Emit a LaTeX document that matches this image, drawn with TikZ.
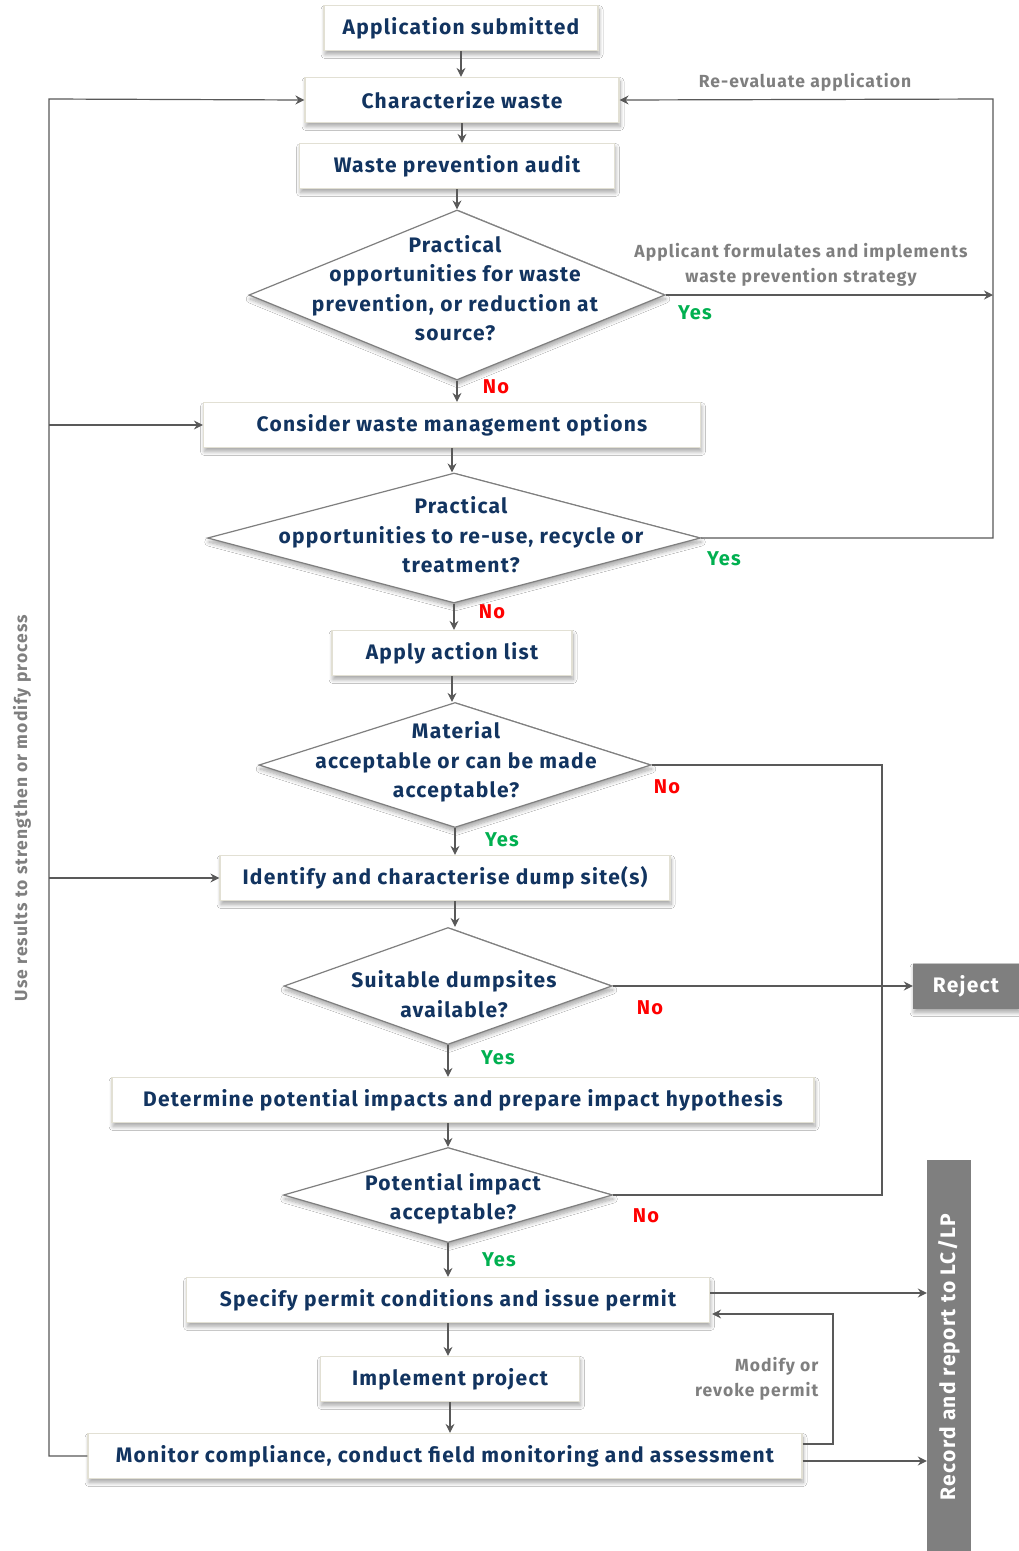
\documentclass[tikz,border=0pt]{standalone}
\usepackage{fontspec}
\setmainfont{Fira Sans}[LetterSpace=6]
\usetikzlibrary{shapes.geometric,shadows.blur,arrows.meta}
\definecolor{navy}{RGB}{18,52,96}
\definecolor{linegray}{RGB}{89,89,89}
\definecolor{labgray}{RGB}{127,127,127}
\definecolor{boxedge}{RGB}{226,224,212}
\definecolor{yesgreen}{RGB}{0,176,80}
\definecolor{nored}{RGB}{255,0,0}
\begin{document}
\begin{tikzpicture}[x=1pt,y=-1pt,
  shade/.style={blur shadow={shadow xshift=1pt,shadow yshift=-4pt,shadow blur radius=4pt,shadow blur steps=8,shadow opacity=35}},
  stepbox/.style={rectangle,draw=boxedge,line width=1.2pt,fill=white,shade,minimum height=45pt,
    text=navy,font=\fontsize{21}{28}\selectfont\bfseries,inner sep=0pt},
  decision/.style={diamond,draw=labgray,line width=1.2pt,fill=white,shade,inner sep=0pt},
  dtext/.style={text=navy,font=\fontsize{21}{29.5}\selectfont\bfseries,align=center,inner sep=0pt},
  graybox/.style={rectangle,fill=labgray,text=white,font=\fontsize{21}{28}\selectfont\bfseries,inner sep=0pt},
  arr/.style={draw=linegray,line width=1.2pt,-{Stealth[length=9pt,width=9pt,inset=3pt]}},
  ln/.style={draw=linegray,line width=1.2pt},
  yes/.style={text=yesgreen,font=\fontsize{20}{24}\selectfont\bfseries},
  no/.style={text=nored,font=\fontsize{20}{24}\selectfont\bfseries},
  note/.style={text=labgray,font=\fontsize{17.5}{25}\selectfont\bfseries,align=center}]

\useasboundingbox[fill=white] (0,0) rectangle (1019,1551);

% main column of steps and decisions
\node[stepbox,minimum width=274pt] (app) at (461,28) {Application submitted};
\node[stepbox,minimum width=314pt] (char) at (462,100) {Characterize waste};
\node[stepbox,minimum width=315pt] (audit) at (457,166) {Waste prevention audit};
\node[decision,minimum width=416pt,minimum height=170pt] (d1) at (457,295) {};
\node[dtext] (d1t) at (455,288) {Practical\\opportunities for waste\\prevention, or reduction at\\source?};
\node[stepbox,minimum width=497pt] (cons) at (452,425) {Consider waste management options};
\node[decision,minimum width=493pt,minimum height=130pt] (d2) at (454,538) {};
\node[dtext] (d2t) at (461,535) {Practical\\opportunities to re-use, recycle or\\treatment?};
\node[stepbox,minimum width=240pt] (act) at (452,653) {Apply action list};
\node[decision,minimum width=392pt,minimum height=125pt] (d3) at (455,765) {};
\node[dtext] (d3t) at (456,762) {Material\\acceptable or can be made\\acceptable?};
\node[stepbox,minimum width=450pt] (site) at (445,878) {Identify and characterise dump site(s)};
\node[decision,minimum width=328pt,minimum height=117pt] (d4) at (448,986) {};
\node[dtext] (d4t) at (454,994) {Suitable dumpsites\\available?};
\node[stepbox,minimum width=702pt] (imp) at (463,1100) {Determine potential impacts and prepare impact hypothesis};
\node[decision,minimum width=329pt,minimum height=95pt] (d5) at (448,1195) {};
\node[dtext] (d5t) at (453,1199) {Potential impact\\acceptable?};
\node[stepbox,minimum width=523pt] (spec) at (448,1300) {Specify permit conditions and issue permit};
\node[stepbox,minimum width=259pt] (impl) at (450,1379) {Implement project};
\node[stepbox,minimum width=714pt] (mon) at (445,1456) {Monitor compliance, conduct field monitoring and assessment};

% outcomes on the right
\node[graybox,shade,minimum width=106pt,minimum height=45pt] (rej) at (966,986) {Reject};
\node[graybox,minimum width=44pt,minimum height=391pt] (rec) at (949,1355.5) {};
\node[graybox,rotate=90] (rect) at (949,1357) {Record and report to LC/LP};

% straight flow, kept vertical
\draw[arr] (app.south) -- (app.south |- char.north);
\draw[arr] (char.south) -- (char.south |- audit.north);
\draw[arr] (audit.south) -- (audit.south |- d1.north);
\draw[arr] (d1.south) -- (d1.south |- cons.north);
\draw[arr] (cons.south) -- (cons.south |- d2.north);
\draw[arr] (d2.south) -- (d2.south |- act.north);
\draw[arr] (act.south) -- (act.south |- d3.north);
\draw[arr] (d3.south) -- (d3.south |- site.north);
\draw[arr] (d3.south |- site.south) -- (d3.south |- d4.north);
\draw[arr] (d4.south) -- (d4.south |- imp.north);
\draw[arr] (d4.south |- imp.south) -- (d4.south |- d5.north);
\draw[arr] (d5.south) -- (d5.south |- spec.north);
\draw[arr] (spec.south) -- (spec.south |- impl.north);
\draw[arr] (impl.south) -- (impl.south |- mon.north);

\node[no] (no1) at (496,387) {No};
\node[no] (no2) at (492,612) {No};
\node[yes] (yes3) at (502,840) {Yes};
\node[yes] (yes4) at (498,1058) {Yes};
\node[yes] (yes5) at (499,1260) {Yes};

% feedback loop on the left
\coordinate (lt) at (49,99);
\draw[arr] (mon.west) -| (lt) -- (char.west);
\draw[arr] (lt |- cons.west) -- (cons.west);
\draw[arr] (lt |- site.west) -- (site.west);
\node[note,rotate=90] (use) at (22,808) {Use results to strengthen or modify process};

% re-evaluation loop on the right
\coordinate (rt) at (993,99);
\draw[arr] (d1.east) -- (d1.east -| rt);
\draw[arr] (d2.east) -| (rt) -- (char.east);
\node[note] (reeval) at (805,82) {Re-evaluate application};
\node[note] (strat) at (801,265) {Applicant formulates and implements\\waste prevention strategy};
\node[yes] (yes1) at (695,313) {Yes};
\node[yes] (yes2) at (724,559) {Yes};

% rejection paths
\coordinate (rx) at (882,765);
\draw[ln] (d3.east) -- (rx) -- (rx |- d5.east) -- (d5.east);
\draw[arr] (d4.east) -- (rej.west);
\node[no] (no3) at (667,787) {No};
\node[no] (no4) at (650,1008) {No};
\node[no] (no5) at (646,1216) {No};

% reporting and permit revision
\draw[arr] ([yshift=7pt]spec.east) -- ([yshift=7pt]spec.east -| rec.west);
\draw[arr] ([yshift=-5pt]mon.east) -- ([yshift=-5pt]mon.east -| rec.west);
\coordinate (mx) at (833,1444);
\draw[arr] ([yshift=12pt]mon.east) -- (mx) -- (mx |- 0,1314) -- ([xshift=2pt,yshift=-14pt]spec.east);
\node[note,align=right,anchor=east] (modify) at (822,1379) {Modify or\\revoke permit};

\end{tikzpicture}
\end{document}
